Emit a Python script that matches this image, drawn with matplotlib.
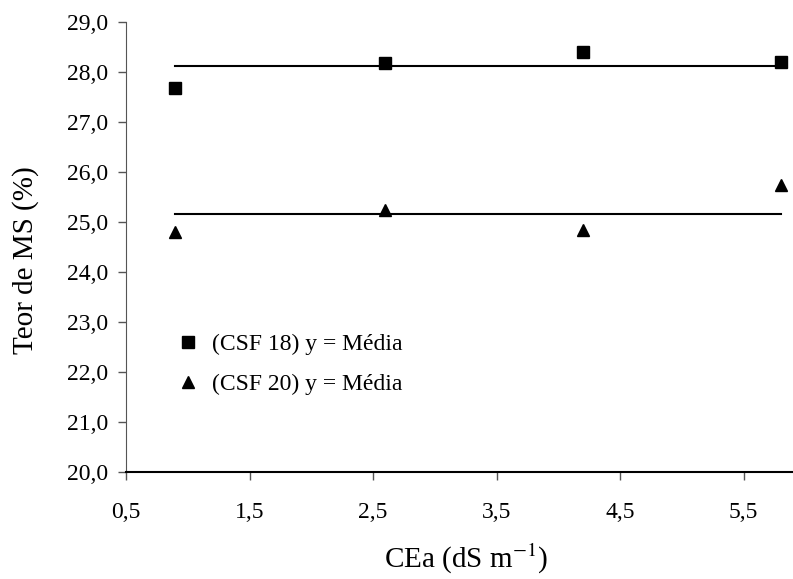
import matplotlib
matplotlib.use("Agg")
import matplotlib.pyplot as plt
import numpy as np

# CEa values (dS m-1)
cea = [0.9, 2.6, 4.2, 5.8]
# dry matter content (%)
ms_csf18 = [27.68, 28.18, 28.40, 28.20]
ms_csf20 = [24.80, 25.24, 24.84, 25.74]

xticks = [0.5, 1.5, 2.5, 3.5, 4.5, 5.5]
yticks = [20, 21, 22, 23, 24, 25, 26, 27, 28, 29]

plt.rcParams['font.family'] = ['Liberation Serif', 'DejaVu Serif']
plt.rcParams['mathtext.fontset'] = 'stix'

fig = plt.figure(figsize=(7.93, 5.79), dpi=100)
ax = fig.add_axes([0.159, 0.185, 0.841, 0.777])

# mean lines
m18 = np.mean(ms_csf18)
m20 = np.mean(ms_csf20)
ax.plot([cea[0], cea[-1]], [m18, m18], color='black', lw=1.5)
ax.plot([cea[0], cea[-1]], [m20, m20], color='black', lw=1.5)

ax.plot(cea, ms_csf18, 's', color='black', ms=8, ls='none', label='(CSF 18) y = Média')
ax.plot(cea, ms_csf20, '^', color='black', ms=9, ls='none', label='(CSF 20) y = Média')

ax.set_xlim(0.5, 5.9)
ax.set_ylim(20, 29)
ax.set_xticks(xticks)
ax.set_yticks(yticks)
ax.set_xticklabels([('%.1f' % v).replace('.', ',') for v in xticks])
ax.set_yticklabels([('%.1f' % v).replace('.', ',') for v in yticks])

ax.spines['top'].set_visible(False)
ax.spines['right'].set_visible(False)
ax.spines['left'].set_color('#555555')
ax.spines['bottom'].set_linewidth(1.5)
ax.tick_params(axis='both', direction='out', length=6, width=1, colors='#555555',
               labelsize=17, labelcolor='black')
ax.tick_params(axis='x', pad=16)
ax.tick_params(axis='y', pad=7)

ax.set_xlabel('CEa (dS m$^{-1}$)', fontsize=21)
ax.set_ylabel('Teor de MS (%)', fontsize=21)
ax.xaxis.set_label_coords(0.51, -0.155)
ax.yaxis.set_label_coords(-0.13, 0.47)

ax.legend(loc='upper left', bbox_to_anchor=(0.075, 0.308), frameon=False,
          fontsize=17, handlelength=1.0, handletextpad=0.5, labelspacing=0.8,
          borderpad=0, borderaxespad=0)

fig.savefig('out.png', dpi=100)
